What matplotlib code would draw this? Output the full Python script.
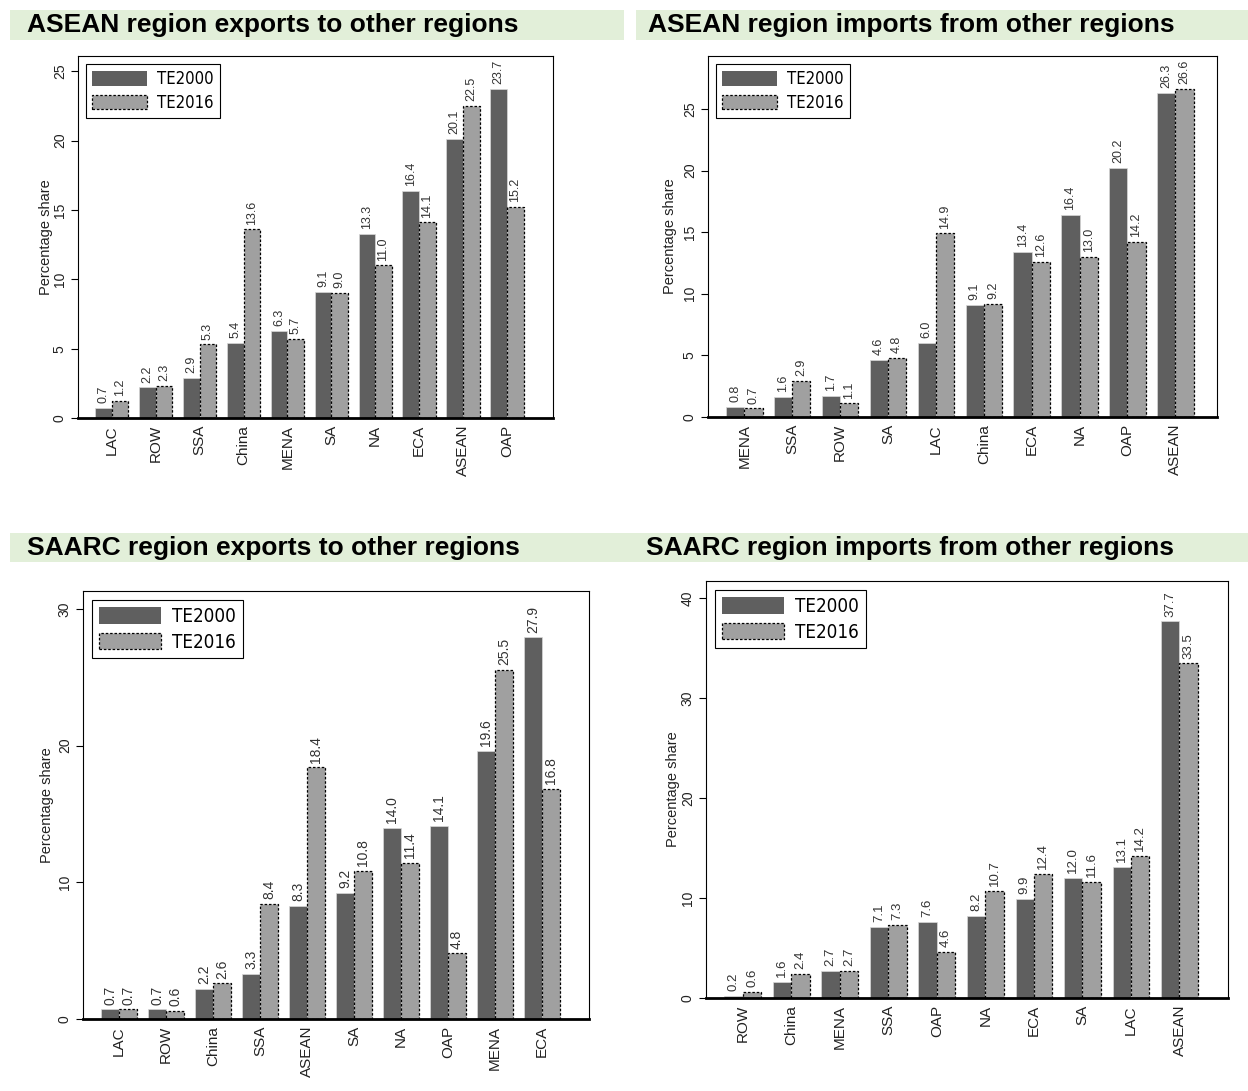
import numpy as np
import matplotlib
matplotlib.use("Agg")
import matplotlib.pyplot as plt
from matplotlib.patches import Patch, Rectangle

plt.rcParams['font.family'] = ['Liberation Sans', 'DejaVu Sans']

# data
asean_exp_cats = ['LAC', 'ROW', 'SSA', 'China', 'MENA', 'SA', 'NA', 'ECA', 'ASEAN', 'OAP']
asean_exp_2000 = [0.7, 2.2, 2.9, 5.4, 6.3, 9.1, 13.3, 16.4, 20.1, 23.7]
asean_exp_2016 = [1.2, 2.3, 5.3, 13.6, 5.7, 9.0, 11.0, 14.1, 22.5, 15.2]

asean_imp_cats = ['MENA', 'SSA', 'ROW', 'SA', 'LAC', 'China', 'ECA', 'NA', 'OAP', 'ASEAN']
asean_imp_2000 = [0.8, 1.6, 1.7, 4.6, 6.0, 9.1, 13.4, 16.4, 20.2, 26.3]
asean_imp_2016 = [0.7, 2.9, 1.1, 4.8, 14.9, 9.2, 12.6, 13.0, 14.2, 26.6]

saarc_exp_cats = ['LAC', 'ROW', 'China', 'SSA', 'ASEAN', 'SA', 'NA', 'OAP', 'MENA', 'ECA']
saarc_exp_2000 = [0.7, 0.7, 2.2, 3.3, 8.3, 9.2, 14.0, 14.1, 19.6, 27.9]
saarc_exp_2016 = [0.7, 0.6, 2.6, 8.4, 18.4, 10.8, 11.4, 4.8, 25.5, 16.8]

saarc_imp_cats = ['ROW', 'China', 'MENA', 'SSA', 'OAP', 'NA', 'ECA', 'SA', 'LAC', 'ASEAN']
saarc_imp_2000 = [0.2, 1.6, 2.7, 7.1, 7.6, 8.2, 9.9, 12.0, 13.1, 37.7]
saarc_imp_2016 = [0.6, 2.4, 2.7, 7.3, 4.6, 10.7, 12.4, 11.6, 14.2, 33.5]

W, H = 1248, 1091
DARK = '#5f5f5f'
LIGHT = '#a0a0a0'
BAND = '#e2efd9'

fig = plt.figure(figsize=(W / 100, H / 100), dpi=100)


def px_rect(l, r, t, b):
    return [l / W, 1 - b / H, (r - l) / W, (b - t) / H]


def band(l, r, t, b):
    fig.patches.append(Rectangle((l / W, 1 - b / H), (r - l) / W, (b - t) / H,
                                 transform=fig.transFigure, facecolor=BAND,
                                 edgecolor='none', zorder=0))


# section header bands
band(10, 624, 10, 40)
band(636, 1248, 10, 40)
band(10, 624, 533, 562)
band(624, 1248, 533, 562)
fig.text(27 / W, 1 - 25 / H, 'ASEAN region exports to other regions',
         fontsize=19, fontweight='bold', va='center')
fig.text(648 / W, 1 - 25 / H, 'ASEAN region imports from other regions',
         fontsize=19, fontweight='bold', va='center')
fig.text(27 / W, 1 - 548 / H, 'SAARC region exports to other regions',
         fontsize=19, fontweight='bold', va='center')
fig.text(646 / W, 1 - 548 / H, 'SAARC region imports from other regions',
         fontsize=19, fontweight='bold', va='center')


def panel(rect, cats, v2000, v2016, ymax, yticks, xlim, val_fs, leg_fs, ylab_x):
    ax = fig.add_axes(rect)
    x = np.arange(len(cats))
    w = 0.38
    ax.bar(x - w / 2, v2000, width=w, color=DARK, edgecolor='#d8d8d8', linewidth=0.5, zorder=2)
    ax.bar(x + w / 2, v2016, width=w, color=LIGHT, edgecolor='black', linewidth=0.9,
           linestyle=(0, (2, 1.5)), zorder=2)
    for xi, v in zip(x - w / 2, v2000):
        ax.annotate(f'{v:.1f}', (xi, v), xytext=(0, 3.5), textcoords='offset points',
                    rotation=90, ha='center', va='bottom', fontsize=val_fs, color='#333333')
    for xi, v in zip(x + w / 2, v2016):
        ax.annotate(f'{v:.1f}', (xi, v), xytext=(0, 3.5), textcoords='offset points',
                    rotation=90, ha='center', va='bottom', fontsize=val_fs, color='#333333')
    ax.set_xlim(*xlim)
    ax.set_ylim(0, ymax)
    ax.set_yticks(yticks)
    ax.set_xticks(x)
    ax.set_xticklabels(cats, rotation=90, fontsize=11, color='#222222')
    ax.tick_params(axis='x', length=0, pad=5)
    ax.tick_params(axis='y', direction='out', length=5, width=0.8, labelsize=10,
                   labelrotation=90, labelcolor='#222222', pad=3)
    for lab in ax.get_yticklabels():
        lab.set_va('center')
    for s in ['left', 'right', 'top']:
        ax.spines[s].set_linewidth(0.8)
    ax.spines['bottom'].set_linewidth(2)
    ax.set_ylabel('Percentage share', fontsize=10.5, color='#222222')
    ax.yaxis.set_label_coords(ylab_x, 0.5)
    handles = [Patch(facecolor=DARK, edgecolor='none'),
               Patch(facecolor=LIGHT, edgecolor='black', linestyle=(0, (2, 1.5)), linewidth=0.9)]
    leg = ax.legend(handles, ['TE2000', 'TE2016'], loc='upper left',
                    bbox_to_anchor=(0.0, 1.0), fancybox=False, framealpha=1,
                    edgecolor='black', handlelength=3.3, handleheight=0.95,
                    borderpad=0.35, labelspacing=0.35, handletextpad=0.6,
                    prop={'family': ['Liberation Sans Narrow', 'DejaVu Sans'],
                          'stretch': 'condensed', 'size': leg_fs})
    leg.get_frame().set_linewidth(0.8)
    return ax


panel(px_rect(78, 553, 56, 418), asean_exp_cats, asean_exp_2000, asean_exp_2016,
      26.1, [0, 5, 10, 15, 20, 25], (-0.77, 10.05), 9, 12, -0.052)
panel(px_rect(708, 1217, 56, 417), asean_imp_cats, asean_imp_2000, asean_imp_2016,
      29.3, [0, 5, 10, 15, 20, 25], (-0.76, 9.87), 9, 12, -0.06)
panel(px_rect(83, 589, 591, 1019), saarc_exp_cats, saarc_exp_2000, saarc_exp_2016,
      31.3, [0, 10, 20, 30], (-0.77, 10.0), 10, 13.5, -0.058)
panel(px_rect(706, 1228, 581, 998), saarc_imp_cats, saarc_imp_2000, saarc_imp_2016,
      41.75, [0, 10, 20, 30, 40], (-0.76, 10.0), 9.5, 13.5, -0.05)

fig.savefig('out.png', dpi=100)
